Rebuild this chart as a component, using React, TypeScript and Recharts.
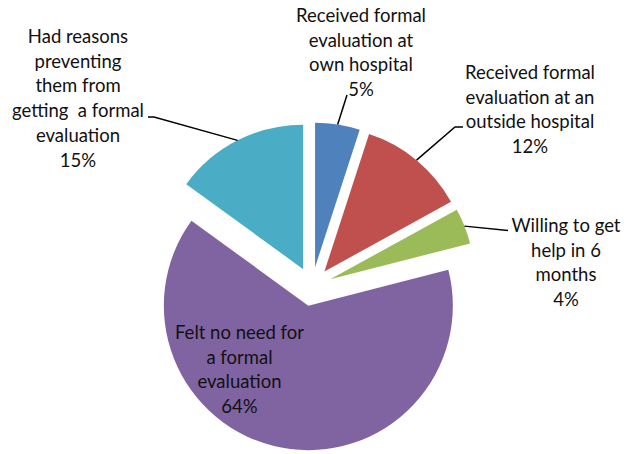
import React from 'react';
import { PieChart, Pie, Cell, Sector } from 'recharts';

// slices go clockwise from 12 o'clock
const categories = [
  'Received formal evaluation at own hospital',
  'Received formal evaluation at an outside hospital',
  'Willing to get help in 6 months',
  'Felt no need for a formal evaluation',
  'Had reasons preventing them from getting a formal evaluation',
];
const shares = [5, 12, 4, 64, 15];
const labelText = [
  ['Received formal', 'evaluation at', 'own hospital'],
  ['Received formal', 'evaluation at an', 'outside hospital'],
  ['Willing to get', 'help in 6', 'months'],
  ['Felt no need for', 'a formal', 'evaluation'],
  ['Had reasons', 'preventing', 'them from', 'getting  a formal', 'evaluation'],
];
const colors = ['#4F81BD', '#C0504D', '#9BBB59', '#8064A2', '#4BACC6'];

const data = categories.map((name, i) => ({ name, value: shares[i] }));

// where each data label sits, and where its leader line ends
const labelLayout = [
  { x: 361, y: 15, end: [347, 95] },
  { x: 530, y: 72, end: [455, 127], tail: 463 },
  { x: 566, y: 225, end: [508, 230.5] },
  { x: 239.5, y: 332 },
  { x: 78, y: 36, end: [154, 117], tail: 148 },
];

const RAD = Math.PI / 180;
const EXPLODE = 19.5;
const LINE_H = 24.7;

const ExplodedSector = (props: any) => {
  const { cx, cy, startAngle, endAngle } = props;
  const mid = ((startAngle + endAngle) / 2) * RAD;
  return (
    <Sector
      {...props}
      cx={cx + EXPLODE * Math.cos(-mid)}
      cy={cy + EXPLODE * Math.sin(-mid)}
    />
  );
};

const renderLabel = (props: any) => {
  const { cx, cy, midAngle, outerRadius, index, value } = props;
  const layout = labelLayout[index];
  const dx = Math.cos(-midAngle * RAD);
  const dy = Math.sin(-midAngle * RAD);
  const ax = cx + (EXPLODE + outerRadius) * dx;
  const ay = cy + (EXPLODE + outerRadius) * dy;
  const lines = [...labelText[index], `${value}%`];

  let points = '';
  if (layout.end) {
    points = `${ax},${ay} ${layout.end[0]},${layout.end[1]}`;
    if (layout.tail) points += ` ${layout.tail},${layout.end[1]}`;
  }

  return (
    <g key={`label-${index}`}>
      {points && (
        <polyline points={points} fill="none" stroke="#000" strokeWidth={1.5} />
      )}
      {lines.map((line, i) => (
        <text
          key={i}
          x={layout.x}
          y={layout.y + i * LINE_H}
          textAnchor="middle"
          dominantBaseline="central"
          fill="#111"
          fontSize={18.5}
          fontFamily="Lato, 'Open Sans', sans-serif"
          style={{ whiteSpace: 'pre' }}
        >
          {line}
        </text>
      ))}
    </g>
  );
};

export default function App() {
  return (
    <div style={{ position: 'absolute', left: 0, top: 0, width: 632, height: 454, background: '#fff' }}>
      <PieChart width={632} height={454} margin={{ top: 0, right: 0, bottom: 0, left: 0 }}>
        <Pie
          data={data}
          dataKey="value"
          nameKey="name"
          cx={312}
          cy={286.5}
          outerRadius={144.5}
          startAngle={90}
          endAngle={-270}
          stroke="none"
          shape={ExplodedSector}
          label={renderLabel}
          labelLine={false}
          isAnimationActive={false}
        >
          {data.map((entry, idx) => (
            <Cell key={`cell-${idx}`} fill={colors[idx]} />
          ))}
        </Pie>
      </PieChart>
    </div>
  );
}
